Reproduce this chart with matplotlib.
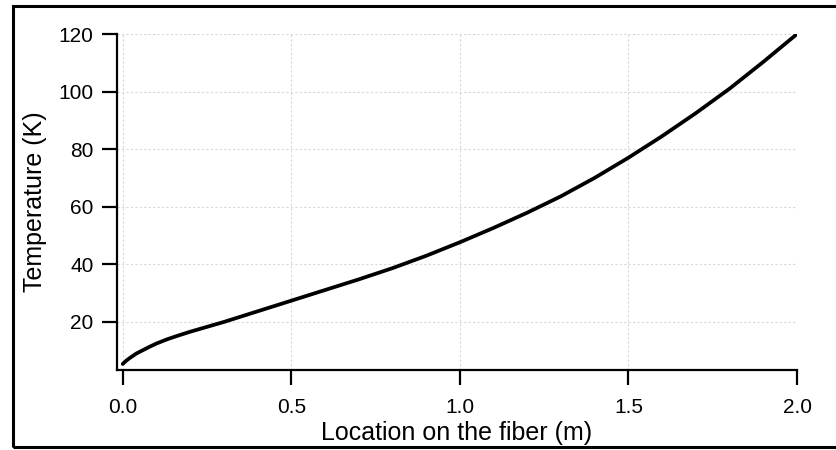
import numpy as np
import matplotlib
matplotlib.use("Agg")
import matplotlib.pyplot as plt
from matplotlib.patches import Rectangle

# values
location = [0.0, 0.01, 0.02, 0.04, 0.06, 0.08, 0.1, 0.13, 0.16, 0.2, 0.25, 0.3,
            0.4, 0.5, 0.6, 0.7, 0.8, 0.9, 1.0, 1.1, 1.2, 1.3, 1.4, 1.5, 1.6,
            1.7, 1.8, 1.9, 2.0]
temperature = [5.3, 6.4, 7.3, 8.9, 10.1, 11.3, 12.4, 13.8, 15.0, 16.5, 18.2, 19.9,
               23.6, 27.3, 31.0, 34.7, 38.6, 42.9, 47.6, 52.6, 57.9, 63.6, 70.0,
               77.0, 84.5, 92.5, 101.0, 110.3, 120.0]
xticks = [0.0, 0.5, 1.0, 1.5, 2.0]
yticks = [20, 40, 60, 80, 100, 120]

plt.rcParams['font.family'] = ['Liberation Sans', 'DejaVu Sans']

fig = plt.figure(figsize=(8.36, 4.5), dpi=100)
ax = fig.add_axes([117/836, 80/450, 680/836, 336/450])

ax.plot(location, temperature, color='black', lw=2.7,
        solid_capstyle='round', solid_joinstyle='round')

ax.set_xlim(-0.017, 2.0)
ax.set_ylim(3.2, 120)
ax.set_xticks(xticks)
ax.set_xticklabels(['%.1f' % t for t in xticks])
ax.set_yticks(yticks)

ax.grid(True, color='#d8d8d8', linestyle=(0, (2, 2)), lw=0.8)
ax.set_axisbelow(True)

for s in ['top', 'right']:
    ax.spines[s].set_visible(False)
for s in ['left', 'bottom']:
    ax.spines[s].set_linewidth(1.6)

ax.tick_params(direction='out', length=11, width=1.6, labelsize=15)
ax.tick_params(axis='x', pad=9)
ax.tick_params(axis='y', pad=6)
ax.set_xlabel('Location on the fiber (m)', fontsize=18, labelpad=3)
ax.set_ylabel('Temperature (K)', fontsize=18, labelpad=8)

# outer frame
fig.patches.append(Rectangle((13/836, 3/450), 1.0, 441/450, transform=fig.transFigure,
                             fill=False, edgecolor='black', lw=2.2, clip_on=False))

fig.savefig('out.png', dpi=100)
